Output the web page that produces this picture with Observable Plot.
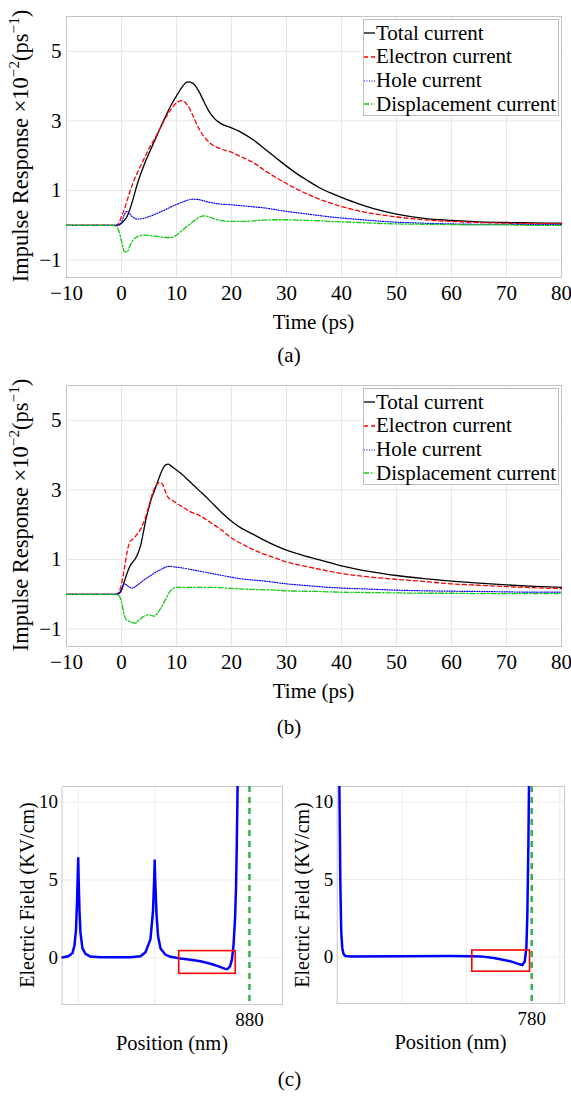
<!DOCTYPE html>
<html>
<head>
<meta charset="utf-8">
<script src="https://cdn.jsdelivr.net/npm/d3@7"></script>
<script src="https://cdn.jsdelivr.net/npm/@observablehq/plot@0.6"></script>
<style>
  html, body { margin: 0; padding: 0; background: #fff; }
  #root { position: relative; width: 571px; height: 1096px; overflow: hidden;
          font-family: "Liberation Serif", "Times New Roman", Tinos, "DejaVu Serif", "Noto Serif", serif; color: #000; }
  #root > svg { position: absolute; overflow: visible; }
  .lab { position: absolute; white-space: nowrap; transform: translate(-50%, -50%); line-height: 1; }
  .ylab { position: absolute; white-space: nowrap; line-height: 1;
          transform: translate(-50%, -50%) rotate(-90deg); }
  .ylab sup { font-size: 0.68em; vertical-align: 0.55em; line-height: 0; }
  .legend { position: absolute; background: #fff; border: 1px solid #bdbdbd; box-sizing: border-box; }
  .legend .row { position: absolute; left: 0; height: 24px; display: flex; align-items: center; font-size: 21px; white-space: nowrap; }
  .legend .row svg { position: static; margin-right: 1px; flex: none; }
</style>
</head>
<body>
<div id="root"></div>
<script>
// ---------- Panel (a) data ----------
const tA = [-10, -2, -1, -0.5, 0, 0.5, 1, 1.5, 2, 3, 4, 5, 6, 7, 8, 9, 10, 11, 12, 13, 14, 15, 16, 17, 18, 20, 22, 24, 26, 28, 30, 32, 34, 36, 38, 40, 43, 46, 50, 55, 60, 65, 70, 75, 80];
const totalA = [0, 0, 0, 0.01, 0.06, 0.14, 0.25, 0.45, 0.7, 1.25, 1.69, 2.07, 2.42, 2.78, 3.12, 3.45, 3.72, 3.97, 4.12, 4.08, 3.87, 3.55, 3.25, 3.05, 2.93, 2.8, 2.65, 2.45, 2.2, 1.95, 1.7, 1.47, 1.27, 1.08, 0.93, 0.8, 0.62, 0.47, 0.32, 0.2, 0.14, 0.1, 0.08, 0.07, 0.06];
const electronA = [0, 0, 0, 0.06, 0.25, 0.45, 0.7, 0.95, 1.18, 1.55, 1.88, 2.2, 2.48, 2.78, 3.08, 3.33, 3.52, 3.58, 3.45, 3.15, 2.8, 2.55, 2.38, 2.27, 2.2, 2.1, 1.95, 1.8, 1.58, 1.38, 1.2, 1.03, 0.88, 0.75, 0.64, 0.54, 0.42, 0.33, 0.24, 0.16, 0.11, 0.08, 0.06, 0.05, 0.04];
const holeA = [0, 0, 0, 0.01, 0.08, 0.3, 0.4, 0.33, 0.24, 0.18, 0.2, 0.25, 0.31, 0.38, 0.45, 0.53, 0.6, 0.66, 0.72, 0.75, 0.74, 0.7, 0.66, 0.63, 0.61, 0.59, 0.56, 0.53, 0.5, 0.45, 0.4, 0.36, 0.32, 0.28, 0.24, 0.21, 0.17, 0.13, 0.09, 0.06, 0.04, 0.03, 0.03, 0.02, 0.02];
const dispA = [0, 0, -0.02, -0.15, -0.45, -0.75, -0.77, -0.6, -0.45, -0.32, -0.28, -0.29, -0.31, -0.33, -0.35, -0.35, -0.28, -0.15, -0.02, 0.1, 0.22, 0.27, 0.24, 0.18, 0.14, 0.11, 0.11, 0.13, 0.15, 0.16, 0.16, 0.15, 0.14, 0.13, 0.11, 0.1, 0.08, 0.06, 0.04, 0.03, 0.02, 0.01, 0.01, 0, 0];

// ---------- Panel (b) data ----------
const tB = [-10, -2, -1, -0.5, 0, 0.5, 1, 1.5, 2, 2.5, 3, 3.5, 4, 4.5, 5, 5.5, 6, 6.5, 7, 7.5, 8, 8.5, 9, 9.5, 10, 11, 12, 13, 14, 16, 18, 20, 22, 24, 26, 28, 30, 33, 36, 40, 45, 50, 55, 60, 65, 70, 75, 80];
const totalB = [0, 0, 0, 0.02, 0.12, 0.36, 0.6, 0.8, 0.92, 1.02, 1.18, 1.42, 1.8, 2.2, 2.5, 2.78, 2.98, 3.2, 3.42, 3.6, 3.72, 3.74, 3.69, 3.63, 3.57, 3.45, 3.3, 3.15, 3.0, 2.7, 2.38, 2.1, 1.88, 1.72, 1.55, 1.4, 1.27, 1.12, 0.99, 0.82, 0.66, 0.54, 0.45, 0.38, 0.32, 0.27, 0.23, 0.2];
const electronB = [0, 0, 0, 0.06, 0.3, 0.72, 1.2, 1.5, 1.58, 1.66, 1.76, 1.88, 2.06, 2.28, 2.55, 2.84, 3.05, 3.17, 3.22, 3.15, 2.95, 2.78, 2.72, 2.67, 2.62, 2.52, 2.42, 2.34, 2.28, 2.08, 1.87, 1.62, 1.44, 1.28, 1.15, 1.04, 0.93, 0.82, 0.72, 0.6, 0.5, 0.43, 0.37, 0.3, 0.26, 0.22, 0.19, 0.16];
const holeB = [0, 0, 0, 0.02, 0.15, 0.3, 0.26, 0.2, 0.18, 0.22, 0.28, 0.34, 0.4, 0.46, 0.51, 0.56, 0.61, 0.66, 0.7, 0.74, 0.78, 0.8, 0.8, 0.79, 0.78, 0.76, 0.73, 0.7, 0.67, 0.61, 0.55, 0.49, 0.44, 0.41, 0.38, 0.34, 0.3, 0.26, 0.22, 0.18, 0.15, 0.12, 0.1, 0.09, 0.08, 0.07, 0.06, 0.06];
const dispB = [0, 0, -0.01, -0.03, -0.22, -0.6, -0.75, -0.78, -0.81, -0.83, -0.77, -0.7, -0.64, -0.6, -0.59, -0.61, -0.63, -0.55, -0.43, -0.3, -0.15, 0.0, 0.12, 0.18, 0.2, 0.2, 0.2, 0.2, 0.2, 0.2, 0.19, 0.17, 0.15, 0.14, 0.13, 0.12, 0.1, 0.09, 0.08, 0.06, 0.05, 0.04, 0.03, 0.03, 0.02, 0.02, 0.02, 0.02];

// ---------- Axes / labels ----------
const timeTicks = [-10, 0, 10, 20, 30, 40, 50, 60, 70, 80];
const impulseTicks = [-1, 1, 3, 5];
const seriesNames = ["Total current", "Electron current", "Hole current", "Displacement current"];

// ---------- Panel (c) data ----------
const posL = [746.1, 750.7, 753.6, 755.0, 756.1, 756.8, 757.4, 757.7, 758.0, 758.6, 759.3, 760.7, 762.9, 766.5, 773.6, 795.0, 802.2, 805.7, 809.3, 811.1, 812.0, 812.3, 812.7, 813.6, 814.7, 816.5, 820.0, 823.6, 830.7, 837.9, 845.0, 852.2, 857.9, 862.2, 864.3, 866.1, 867.5, 868.6, 869.7, 870.4, 870.9, 871.3, 871.6];
const fieldL = [0.02, 0.1, 0.3, 0.8, 1.8, 3.5, 5.5, 6.4, 5.0, 3.0, 1.6, 0.6, 0.25, 0.08, 0.03, 0.03, 0.1, 0.35, 1.2, 3.0, 5.2, 6.25, 5.0, 2.8, 1.4, 0.6, 0.2, 0.06, -0.05, -0.12, -0.22, -0.38, -0.55, -0.7, -0.72, -0.55, -0.1, 0.8, 2.5, 4.5, 7.0, 9.5, 11.5];
const posR = [642.7, 643.1, 643.4, 643.8, 644.1, 644.8, 645.7, 647.1, 650.7, 686.4, 722.1, 736.4, 743.6, 753.1, 765.0, 769.8, 773.3, 775.0, 776.2, 776.9, 777.6, 778.1];
const fieldR = [11.5, 8, 5, 3, 1.6, 0.6, 0.2, 0.06, 0.03, 0.05, 0.06, 0.05, 0.04, -0.06, -0.28, -0.43, -0.52, -0.3, 0.6, 2.8, 7.1, 11.5];
const boxXL = [829.8, 870.2], boxYL = [-1.03, 0.43];
const boxXR = [737.6, 778.8], boxYR = [-0.95, 0.42];
const edgeL = [880], edgeR = [780];
const gridPosL = [757.7, 812.3, 880], gridPosR = [687.6, 733.5, 780, 800];
const fieldTicks = [0, 5, 10];

// ---------- Styles ----------
const styles = [
  {stroke: "#000000", strokeWidth: 1.3, strokeDasharray: null},
  {stroke: "#ff0000", strokeWidth: 1.3, strokeDasharray: "4,3"},
  {stroke: "#0000ff", strokeWidth: 1.2, strokeDasharray: "1,1.5"},
  {stroke: "#14c814", strokeWidth: 1.3, strokeDasharray: "5,2,1.5,2"}
];
const FONT = "'Liberation Serif', 'Times New Roman', Tinos, 'DejaVu Serif', 'Noto Serif', serif";
const root = document.getElementById("root");

function rows(t, v) { return t.map((x, i) => ({t: x, v: v[i]})); }

function addText(html, x, y, size, cls) {
  const d = document.createElement("div");
  d.className = cls || "lab";
  d.style.left = x + "px"; d.style.top = y + "px"; d.style.fontSize = size + "px";
  d.innerHTML = html;
  root.appendChild(d);
}

function impulsePanel(top, t, series) {
  const marks = [
    Plot.gridX(timeTicks, {stroke: "#e6e6e6", strokeOpacity: 1}),
    Plot.gridY(impulseTicks, {stroke: "#e6e6e6", strokeOpacity: 1}),
    Plot.axisX(timeTicks, {tickSize: 0, tickPadding: 8, label: null}),
    Plot.axisY(impulseTicks, {tickSize: 0, tickPadding: 5, label: null}),
    Plot.frame({stroke: "#c4c4c4"})
  ];
  series.forEach((vals, i) => {
    const s = styles[i];
    marks.push(Plot.line(rows(t, vals), {x: "t", y: "v", curve: "monotone-x",
      stroke: s.stroke, strokeWidth: s.strokeWidth, strokeDasharray: s.strokeDasharray}));
  });
  const svg = Plot.plot({
    width: 571, height: 300,
    marginLeft: 66, marginRight: 10, marginTop: 16, marginBottom: 23,
    x: {domain: [-10, 80]},
    y: {domain: [-1.5, 6]},
    style: {fontFamily: FONT, fontSize: "21px", background: "transparent", color: "#000"},
    marks
  });
  svg.style.left = "0px"; svg.style.top = top + "px";
  root.appendChild(svg);

  // legend
  const lg = document.createElement("div");
  lg.className = "legend";
  lg.style.left = "363px"; lg.style.top = (top + 19) + "px";
  lg.style.width = "196px"; lg.style.height = "97px";
  seriesNames.forEach((name, i) => {
    const s = styles[i];
    const r = document.createElement("div");
    r.className = "row";
    r.style.top = (1 + i * 23.8) + "px";
    r.innerHTML = `<svg width="11" height="10"><line x1="0" y1="5" x2="11" y2="5" stroke="${s.stroke}" stroke-width="${s.strokeWidth}" ${s.strokeDasharray ? `stroke-dasharray="${s.strokeDasharray}"` : ""}/></svg><span>${name}</span>`;
    lg.appendChild(r);
  });
  root.appendChild(lg);

  addText("Time (ps)", 313.5, top + 322, 21);
  addText("Impulse Response ×10<sup>−2</sup>(ps<sup>−1</sup>)", 21, top + 146, 22.5, "ylab");
}

impulsePanel(0, tA, [totalA, electronA, holeA, dispA]);
addText("(a)", 289, 355, 21);
impulsePanel(369, tB, [totalB, electronB, holeB, dispB]);
addText("(b)", 289, 727, 21);

function fieldPanel(left, width, mLeft, mRight, mBottom, domain, pos, field, grid, edge, bx, by) {
  const svg = Plot.plot({
    width, height: 260,
    marginLeft: mLeft, marginRight: mRight, marginTop: 10, marginBottom: mBottom,
    x: {domain},
    y: {domain: [-3, 11]},
    style: {fontFamily: FONT, fontSize: "19px", background: "transparent", color: "#000"},
    marks: [
      Plot.gridX(grid, {stroke: "#ececec", strokeOpacity: 1}),
      Plot.gridY(fieldTicks, {stroke: "#ececec", strokeOpacity: 1}),
      Plot.axisX(edge, {tickSize: 0, tickPadding: 8, label: null}),
      Plot.axisY(fieldTicks, {tickSize: 0, tickPadding: 4, label: null}),
      Plot.frame({stroke: "#c8c8c8"}),
      Plot.ruleX(edge, {stroke: "#2fb34a", strokeWidth: 2.5, strokeDasharray: "6,5"}),
      Plot.line(rows(pos, field), {x: "t", y: "v", stroke: "#0000ff", strokeWidth: 2.5, clip: true}),
      Plot.rect([{x1: bx[0], x2: bx[1], y1: by[0], y2: by[1]}], {x1: "x1", x2: "x2", y1: "y1", y2: "y2", fill: "none", stroke: "#ff0000", strokeWidth: 1.6})
    ]
  });
  svg.style.left = left + "px"; svg.style.top = "776px";
  root.appendChild(svg);
}

fieldPanel(0, 300, 61.5, 18, 32, [746.1, 903.6], posL, fieldL, gridPosL, edgeL, boxXL, boxYL);
fieldPanel(300, 271, 36.7, 7, 33, [641.2, 803.4], posR, fieldR, gridPosR, edgeR, boxXR, boxYR);

addText("Electric Field (KV/cm)", 27, 895, 20, "ylab");
addText("Electric Field (KV/cm)", 302, 895, 20, "ylab");
addText("Position (nm)", 172, 1043, 20.5);
addText("Position (nm)", 450.5, 1042, 20.5);
addText("(c)", 289.5, 1079, 21);
</script>
</body>
</html>
